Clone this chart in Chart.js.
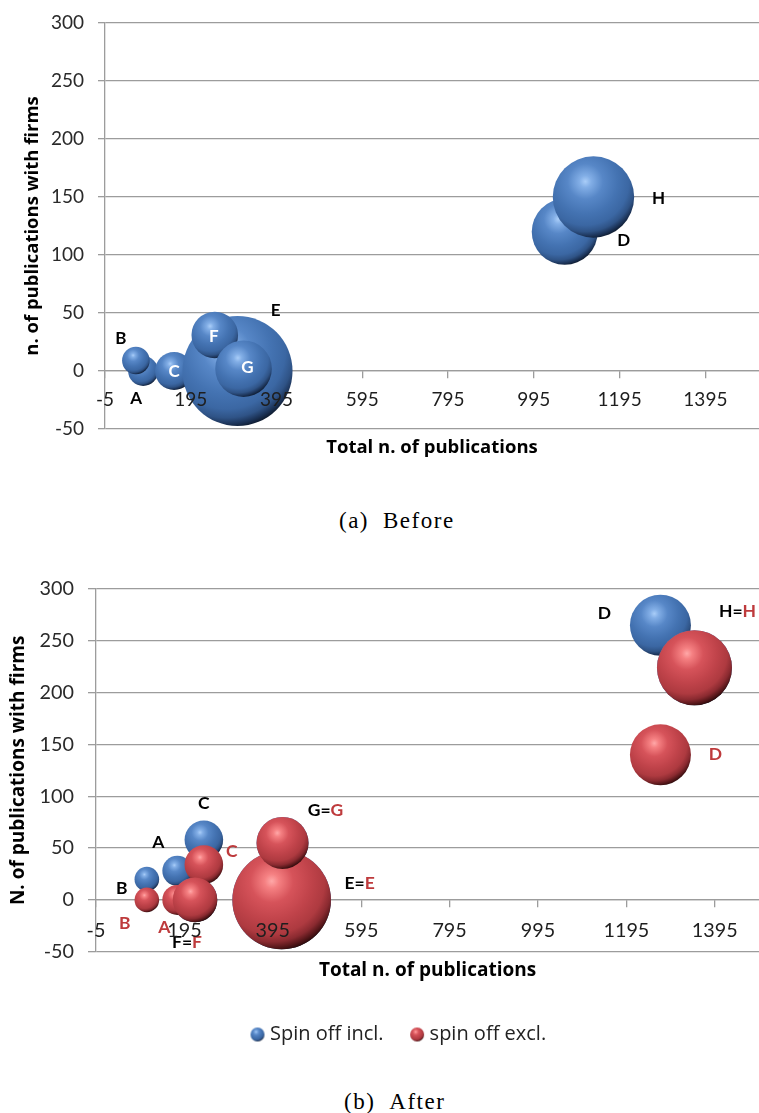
<!DOCTYPE html>
<html>
<head>
<meta charset="utf-8">
<script src="https://cdn.jsdelivr.net/npm/chart.js@4.4.1/dist/chart.umd.min.js"></script>
<style>
html,body{margin:0;padding:0;background:#fff;}
#wrap{position:relative;width:759px;height:1113px;overflow:hidden;background:#fff;}
canvas{position:absolute;left:0;}
#c1{top:0;}
#c2{top:560px;}
.cap{position:absolute;font-family:"Liberation Serif","DejaVu Serif",serif;font-size:23px;line-height:23px;letter-spacing:1.5px;color:#000;white-space:pre;}
.cap span{margin-left:14px;}
</style>
</head>
<body>
<div id="wrap">
<canvas id="c1" width="759" height="470"></canvas>
<div class="cap" style="left:339px;top:509px">(a)<span>Before</span></div>
<canvas id="c2" width="759" height="500"></canvas>
<div class="cap" style="left:344px;top:1090px">(b)<span>After</span></div>
</div>
<script>
// ---------------- data ----------------
const names = ['A', 'B', 'C', 'D', 'E', 'F', 'G', 'H'];

// (a) Before: total publications, publications with firms, bubble radius
const beforeX = [84, 67, 156, 1067, 304, 251, 318, 1134];
const beforeY = [0, 9, 0, 120, 0, 31, 2, 150];
const beforeR = [15, 13.8, 19, 33, 55, 23.3, 28.3, 40.7];

// (b) After: spin off included
const inclX = [179, 110, 239, 1272, 415, 219, 417, 1349];
const inclY = [28, 20, 58, 265, 0, 0, 55, 224];
const inclR = [15, 12.3, 19.3, 30.5, 49.3, 22.3, 26, 37.5];
// (b) After: spin off excluded
const exclX = [179, 110, 239, 1272, 415, 219, 417, 1349];
const exclY = [0, 0, 34, 140, 0, 0, 55, 224];
const exclR = [15, 12.3, 19.3, 30.5, 49.3, 22.3, 26, 37.5];

const seriesNames = ['Spin off incl.', 'spin off excl.'];
const xTicks = [-5, 195, 395, 595, 795, 995, 1195, 1395];
const yTicks = [-50, 0, 50, 100, 150, 200, 250, 300];

// ---------------- styles ----------------
const GRID = '#9c9c9c';
const BLACK = '#000000';
const REDTXT = '#BE3A3C';
const BLUE_STOPS = [[0, '#A9CDF8'], [0.1, '#82AEE6'], [0.3, '#5787C7'], [0.55, '#4473B2'], [0.74, '#3B67A3'], [0.85, '#2F5386'], [0.93, '#1B3256'], [1, '#0B1524']];
const RED_STOPS = [[0, '#FFA8A8'], [0.1, '#F58082'], [0.3, '#D6535A'], [0.55, '#C0434A'], [0.74, '#AE3A40'], [0.85, '#8A2A30'], [0.93, '#56171A'], [1, '#220707']];

function zip(xs, ys, rs) { return xs.map((x, i) => ({x: x, y: ys[i], r: rs[i]})); }

function paintSphere(g2, cx, cy, r, stops) {
  const hx = cx - 0.2 * r, hy = cy - 0.38 * r;
  const g = g2.createRadialGradient(hx, hy, 0, hx, hy, 1.45 * r);
  stops.forEach(s => g.addColorStop(s[0], s[1]));
  return g;
}
function sphereFill(stops) {
  return (c) => {
    if (c.type !== 'data' || !c.raw) return stops[3][1];
    const ch = c.chart;
    const cx = ch.scales.x.getPixelForValue(c.raw.x);
    const cy = ch.scales.y.getPixelForValue(c.raw.y);
    const r = c.raw.r;
    if (!isFinite(cx) || !isFinite(cy) || !isFinite(r) || r <= 0) return stops[3][1];
    return paintSphere(ch.ctx, cx, cy, r, stops);
  };
}
function legendBall(stops) {
  const cv = document.createElement('canvas');
  cv.width = 16; cv.height = 16;
  const g2 = cv.getContext('2d');
  g2.fillStyle = paintSphere(g2, 8, 8, 7, stops);
  g2.beginPath(); g2.arc(8, 8, 7, 0, Math.PI * 2); g2.fill();
  return cv;
}

const labelPlugin = {
  id: 'bubbleLabels',
  afterDatasetsDraw(chart, args, opts) {
    const g2 = chart.ctx;
    g2.save();
    g2.font = opts.font;
    g2.textBaseline = 'middle';
    g2.textAlign = 'left';
    opts.items.forEach(L => {
      const el = chart.getDatasetMeta(L.ds).data[L.i];
      const x = el.x + L.dx, y = el.y + L.dy;
      const w = L.parts.reduce((s, p) => s + g2.measureText(p[0]).width, 0);
      let cx = x - w / 2;
      L.parts.forEach(p => {
        g2.fillStyle = p[1];
        g2.fillText(p[0], cx, y);
        cx += g2.measureText(p[0]).width;
      });
    });
    g2.restore();
  }
};

const legendPlace = {
  id: 'legendPlace',
  afterLayout(chart, args, opts) {
    const lg = chart.legend;
    if (!lg || !opts.startX) return;
    const w = lg.right - lg.left;
    lg.left = opts.startX - lg.options.labels.padding;
    lg.right = lg.left + w;
  }
};

function makeOptions(cfg) {
  const tickFont = {family: 'Lato', size: cfg.tickSize};
  const titleFont = {family: 'Open Sans', size: cfg.titleSize, weight: 'bold', lineHeight: 1.2};
  return {
    responsive: false,
    devicePixelRatio: 1,
    animation: false,
    events: [],
    layout: {padding: cfg.padding, autoPadding: false},
    scales: {
      x: {
        type: 'linear', min: -5, max: cfg.xMax,
        position: {y: 0},
        afterBuildTicks: s => { s.ticks = xTicks.map(v => ({value: v})); },
        afterFit: s => { s.height = 0; s.paddingLeft = 0; s.paddingRight = 0; },
        grid: {display: true, drawOnChartArea: false, drawTicks: true, tickLength: 7, color: GRID, lineWidth: 1.3},
        border: {display: true, color: GRID, width: 1.3},
        ticks: {display: true, z: 1, font: tickFont, color: '#1e1e1e', padding: cfg.xLabelPad, maxRotation: 0, autoSkip: false,
          callback: v => String(v)}
      },
      y: {
        type: 'linear', min: -50, max: 300,
        position: 'left',
        afterBuildTicks: s => { s.ticks = yTicks.map(v => ({value: v})); },
        afterFit: s => { s.width = cfg.yWidth; s.paddingTop = 0; s.paddingBottom = 0; },
        grid: {display: true, drawTicks: true, tickLength: cfg.yTick, color: GRID, lineWidth: 1.3},
        border: {display: true, color: GRID, width: 1.3},
        ticks: {font: tickFont, color: '#2a2a2a', padding: 14, callback: v => String(v)},
        title: {display: true, text: cfg.yTitle, color: BLACK, font: titleFont, padding: {top: cfg.yTitlePad, bottom: 0}}
      }
    },
    plugins: {
      tooltip: {enabled: false},
      title: {
        display: true, text: 'Total n. of publications', position: 'bottom', fullSize: false, weight: 500,
        color: BLACK, font: titleFont,
        padding: cfg.xTitlePad
      },
      legend: cfg.legend,
      bubbleLabels: {font: cfg.labelFont, items: cfg.labels},
      legendPlace: {startX: cfg.legendStart || 0}
    }
  };
}

// ---------------- chart (a) ----------------
const beforeLabels = [
  {ds: 0, i: 0, dx: -7, dy: 28, parts: [[names[0], BLACK]]},
  {ds: 0, i: 1, dx: -15, dy: -22, parts: [[names[1], BLACK]]},
  {ds: 0, i: 2, dx: 0, dy: 1, parts: [[names[2], '#ffffff']]},
  {ds: 0, i: 3, dx: 59, dy: 9, parts: [[names[3], BLACK]]},
  {ds: 0, i: 4, dx: 38, dy: -60, parts: [[names[4], BLACK]]},
  {ds: 0, i: 5, dx: -1, dy: 1, parts: [[names[5], '#ffffff']]},
  {ds: 0, i: 6, dx: 4, dy: -1, parts: [[names[6], '#ffffff']]},
  {ds: 0, i: 7, dx: 65, dy: 2, parts: [[names[7], BLACK]]}
];

new Chart(document.getElementById('c1'), {
  type: 'bubble',
  data: {
    datasets: [{
      label: 'Before',
      data: zip(beforeX, beforeY, beforeR),
      backgroundColor: sphereFill(BLUE_STOPS),
      borderWidth: 0, hoverRadius: 0, hoverBorderWidth: 0, clip: false
    }]
  },
  options: makeOptions({
    xMax: 1520, tickSize: 19, titleSize: 18.5, yWidth: 105, yTick: 7,
    yTitle: 'n. of publications with firms', yTitlePad: 21.9,
    xLabelPad: 10, padding: {top: 23, left: 0, right: 0, bottom: 0},
    xTitlePad: {top: 7.9, bottom: 10.9},
    legend: {display: false},
    labelFont: 'bold 17px Lato',
    labels: beforeLabels
  }),
  plugins: [labelPlugin, legendPlace]
});

// ---------------- chart (b) ----------------
const afterLabels = [
  {ds: 0, i: 0, dx: -19, dy: -29, parts: [[names[0], BLACK]]},
  {ds: 0, i: 1, dx: -25, dy: 9, parts: [[names[1], BLACK]]},
  {ds: 0, i: 2, dx: 0, dy: -36, parts: [[names[2], BLACK]]},
  {ds: 0, i: 3, dx: -56, dy: -12, parts: [[names[3], BLACK]]},
  {ds: 1, i: 0, dx: -13, dy: 27, parts: [[names[0], REDTXT]]},
  {ds: 1, i: 1, dx: -22, dy: 23, parts: [[names[1], REDTXT]]},
  {ds: 1, i: 2, dx: 28, dy: -13, parts: [[names[2], REDTXT]]},
  {ds: 1, i: 3, dx: 55, dy: 0, parts: [[names[3], REDTXT]]},
  {ds: 1, i: 4, dx: 78, dy: -17, parts: [[names[4] + '=', BLACK], [names[4], REDTXT]]},
  {ds: 1, i: 5, dx: -8, dy: 42, parts: [[names[5] + '=', BLACK], [names[5], REDTXT]]},
  {ds: 1, i: 6, dx: 43, dy: -33, parts: [[names[6] + '=', BLACK], [names[6], REDTXT]]},
  {ds: 1, i: 7, dx: 43, dy: -56, parts: [[names[7] + '=', BLACK], [names[7], REDTXT]]}
];
const legendImgs = [legendBall(BLUE_STOPS), legendBall(RED_STOPS)];

new Chart(document.getElementById('c2'), {
  type: 'bubble',
  data: {
    datasets: [{
      label: seriesNames[0],
      data: zip(inclX, inclY, inclR),
      backgroundColor: sphereFill(BLUE_STOPS),
      borderWidth: 0, hoverRadius: 0, hoverBorderWidth: 0, clip: false, order: 2
    }, {
      label: seriesNames[1],
      data: zip(exclX, exclY, exclR),
      backgroundColor: sphereFill(RED_STOPS),
      borderWidth: 0, hoverRadius: 0, hoverBorderWidth: 0, clip: false, order: 1
    }]
  },
  options: makeOptions({
    xMax: 1495, tickSize: 19.8, titleSize: 19, yWidth: 96, yTick: 8,
    yTitle: 'N. of publications with firms', yTitlePad: 7.6,
    xLabelPad: 12, padding: {top: 29, left: 0, right: 0, bottom: 5.5},
    xTitlePad: {top: 7.4, bottom: 11.6},
    legend: {
      display: true, position: 'bottom', align: 'start',
      labels: {
        usePointStyle: true, boxWidth: 5, boxHeight: 5, padding: 31,
        color: '#222', font: {family: 'Open Sans', size: 20},
        sort: (a, b) => a.datasetIndex - b.datasetIndex,
        generateLabels(chart) {
          const items = Chart.defaults.plugins.legend.labels.generateLabels(chart);
          items.forEach(it => { it.pointStyle = legendImgs[it.datasetIndex]; });
          return items;
        }
      }
    },
    legendStart: 255,
    labelFont: 'bold 17.5px Lato',
    labels: afterLabels
  }),
  plugins: [labelPlugin, legendPlace]
});
</script>
</body>
</html>
